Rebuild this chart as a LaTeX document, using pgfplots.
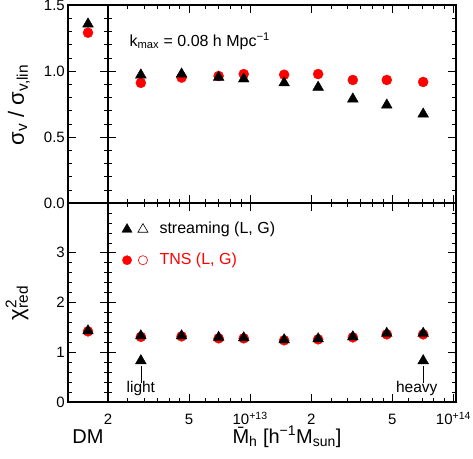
\documentclass[border=0pt]{standalone}
\usepackage{fontspec}
\setmainfont{Liberation Sans}
\usepackage{pgfplots}
\pgfplotsset{compat=1.18}

\definecolor{tnsred}{RGB}{255,0,0}
\newcommand\fs[1]{\fontsize{#1}{#1}\selectfont}

% halo mass bins (h^-1 Msun)
\pgfplotstableread{
m        sstr   stns   cstr  ctns
2.9e12   0.970  0.910  1.33  1.31
4.6e12   0.977  0.950  1.33  1.32
7.0e12   0.952  0.962  1.30  1.28
9.3e12   0.940  0.977  1.29  1.28
1.47e13  0.910  0.972  1.25  1.24
2.16e13  0.877  0.977  1.27  1.26
3.2e13   0.788  0.932  1.31  1.30
4.7e13   0.742  0.932  1.38  1.36
7.1e13   0.674  0.917  1.38  1.36
}\halos

\pgfplotsset{
  rootframe/.style={
    scale only axis,
    axis line style={line width=1.3pt},
    tick style={black, line width=0.6pt},
    major tick length=8pt,
    minor tick length=4pt,
    tick align=inside,
    /pgf/number format/assume math mode=true,
    ticklabel style={font=\fs{15}},
    yticklabel style={anchor=east, inner sep=0pt, xshift=-3pt},
    xticklabel style={anchor=base, yshift=-22.5pt},
    clip=false,
  },
  tri/.style={only marks, mark=triangle*, mark size=6.2pt, black},
  circ/.style={only marks, mark=*, mark size=5pt, draw=tnsred, fill=tnsred},
}

\begin{document}
\begin{tikzpicture}
\useasboundingbox (0,0) rectangle (473pt,-458pt);

% ---- top, DM
\begin{axis}[rootframe, at={(68pt,-5pt)}, anchor=north west,
  width=40pt, height=198pt, xmin=0, xmax=1, ymin=0, ymax=1.5,
  xtick=\empty, ytick={0,0.5,1,1.5}, yticklabels={0.0,0.5,1.0,1.5},
  minor y tick num=4]
\addplot[circ] coordinates {(0.5,1.29)};
\addplot[tri] coordinates {(0.5,1.356)};
\end{axis}

% ---- top, halos
\begin{axis}[xmode=log, rootframe, at={(108pt,-5pt)}, anchor=north west,
  width=348pt, height=198pt, ymin=0, ymax=1.5,
  xmin=2e12, xmax=1.03e14,
  xtick={2e12,5e12,1e13,2e13,5e13,1e14},
  minor xtick={2.5e12,3e12,3.5e12,4e12,4.5e12,6e12,7e12,8e12,9e12,
               2.5e13,3e13,3.5e13,4e13,4.5e13,6e13,7e13,8e13,9e13},
  xticklabels={}, ytick={0,0.5,1,1.5}, yticklabels={}, minor y tick num=4]
\addplot[circ] table[x=m, y=stns] {\halos};
\addplot[tri] table[x=m, y=sstr] {\halos};
\end{axis}

% ---- bottom, DM
\begin{axis}[rootframe, at={(68pt,-203pt)}, anchor=north west,
  width=40pt, height=199pt, xmin=0, xmax=1, ymin=0, ymax=4,
  xtick=\empty, ytick={0,1,2,3}, minor y tick num=4]
\addplot[circ] coordinates {(0.5,1.42)};
\addplot[tri] coordinates {(0.5,1.43)};
\end{axis}

% ---- bottom, halos
\begin{axis}[xmode=log, rootframe, at={(108pt,-203pt)}, anchor=north west,
  width=348pt, height=199pt, ymin=0, ymax=4,
  xmin=2e12, xmax=1.03e14,
  xtick={2e12,5e12,1e13,2e13,5e13,1e14},
  minor xtick={2.5e12,3e12,3.5e12,4e12,4.5e12,6e12,7e12,8e12,9e12,
               2.5e13,3e13,3.5e13,4e13,4.5e13,6e13,7e13,8e13,9e13},
  xticklabels={2,5,10\textsuperscript{+13},2,5,10\textsuperscript{+14}},
  ytick={0,1,2,3,4}, yticklabels={}, minor y tick num=4]
\addplot[circ] table[x=m, y=ctns] {\halos};
\addplot[tri] table[x=m, y=cstr] {\halos};
% light / heavy pointers
\addplot[black, line width=0.6pt] coordinates {(2.9e12,0.72) (2.9e12,0.38)};
\addplot[black, line width=0.6pt] coordinates {(7.1e13,0.72) (7.1e13,0.38)};
\addplot[tri] coordinates {(2.9e12,0.83) (7.1e13,0.83)};
\node[font=\fs{15.5}] at (axis cs:2.9e12,0.27) {light};
\node[font=\fs{15.5}] at (axis cs:6.6e13,0.27) {heavy};
% legend glyphs
\addplot[tri, mark size=5.8pt] coordinates {(2.48e12,3.47)};
\addplot[only marks, mark=triangle, mark size=5.8pt, black, line width=0.6pt] coordinates {(2.97e12,3.47)};
\addplot[circ, mark size=4.6pt] coordinates {(2.48e12,2.85)};
\addplot[only marks, mark=o, mark size=4.6pt, tnsred, line width=0.6pt] coordinates {(2.97e12,2.85)};
\end{axis}

% ---- text
\node[anchor=west, font=\fs{16}] at (126pt,-41pt)
  {k\textsubscript{max} = 0.08 h Mpc\textsuperscript{−1}};
\node[anchor=west, font=\fs{16}] at (156pt,-229pt) {streaming (L, G)};
\node[anchor=west, font=\fs{16}, text=tnsred] at (156pt,-260pt) {TNS (L, G)};
\node[rotate=90, font=\fs{22}] at (19pt,-105pt)
  {σ\textsubscript{v} / σ\textsubscript{v,lin}};
\node[rotate=90, font=\fs{22}] at (17pt,-303pt)
  {χ\rlap{\textsuperscript{2}}\textsubscript{red}};
\node[font=\fs{20}] at (88pt,-437pt) {DM};
\node[font=\fs{20}] at (287pt,-437pt) {\={M}\textsubscript{h} [h\textsuperscript{−1}M\textsubscript{sun}]};
\end{tikzpicture}
\end{document}
